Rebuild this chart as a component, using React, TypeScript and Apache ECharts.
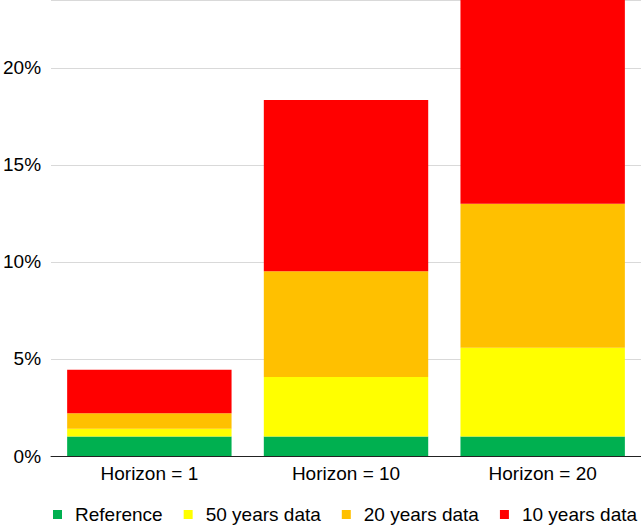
import React, { useEffect, useRef } from "react";
import * as echarts from "echarts";

const categories = ["Horizon = 1", "Horizon = 10", "Horizon = 20"];
const seriesNames = ["Reference", "50 years data", "20 years data", "10 years data"];
const reference = [1, 1, 1];
const years50 = [0.4, 3.07, 4.58];
const years20 = [0.8, 5.45, 7.42];
const years10 = [2.25, 8.83, 11.5];
const colors = ["#00B050", "#FFFF00", "#FFC000", "#FF0000"];

const FONT = "'Liberation Sans', Arial, Helvetica, sans-serif";

export default function App() {
  const ref = useRef<HTMLDivElement>(null);
  useEffect(() => {
    document.body.style.margin = "0";
    const chart = echarts.init(ref.current!, null, { renderer: "svg" });
    const data = [reference, years50, years20, years10];
    chart.setOption({
      animation: false,
      color: colors,
      grid: { left: 49, right: 0, top: 0, bottom: 71, containLabel: false },
      legend: {
        left: 53,
        top: 505,
        padding: 0,
        itemWidth: 9,
        itemHeight: 9,
        itemGap: 21,
        icon: "rect",
        textStyle: { fontFamily: FONT, fontSize: 19, color: "#000", padding: [0, 0, 0, 8] },
        data: seriesNames,
      },
      xAxis: {
        type: "category",
        data: categories,
        axisTick: { show: false },
        axisLine: { show: true, lineStyle: { color: "#222", width: 1 } },
        axisLabel: { fontFamily: FONT, fontSize: 19, color: "#000", margin: 8 },
      },
      yAxis: {
        type: "value",
        min: 0,
        max: 23.5,
        interval: 5,
        axisLine: { show: false },
        axisTick: { show: false },
        splitLine: { lineStyle: { color: "#d9d9d9", width: 1 } },
        axisLabel: {
          fontFamily: FONT,
          fontSize: 19,
          color: "#000",
          margin: 10,
          formatter: (v: number) => (v % 5 === 0 ? `${v}%` : ""),
        },
      },
      series: seriesNames.map((name, i) => ({
        name,
        type: "bar",
        stack: "total",
        barCategoryGap: "16.4%",
        data: data[i],
        itemStyle: { color: colors[i] },
      })),
    });
    return () => chart.dispose();
  }, []);
  return <div ref={ref} style={{ width: 641, height: 527 }} />;
}
